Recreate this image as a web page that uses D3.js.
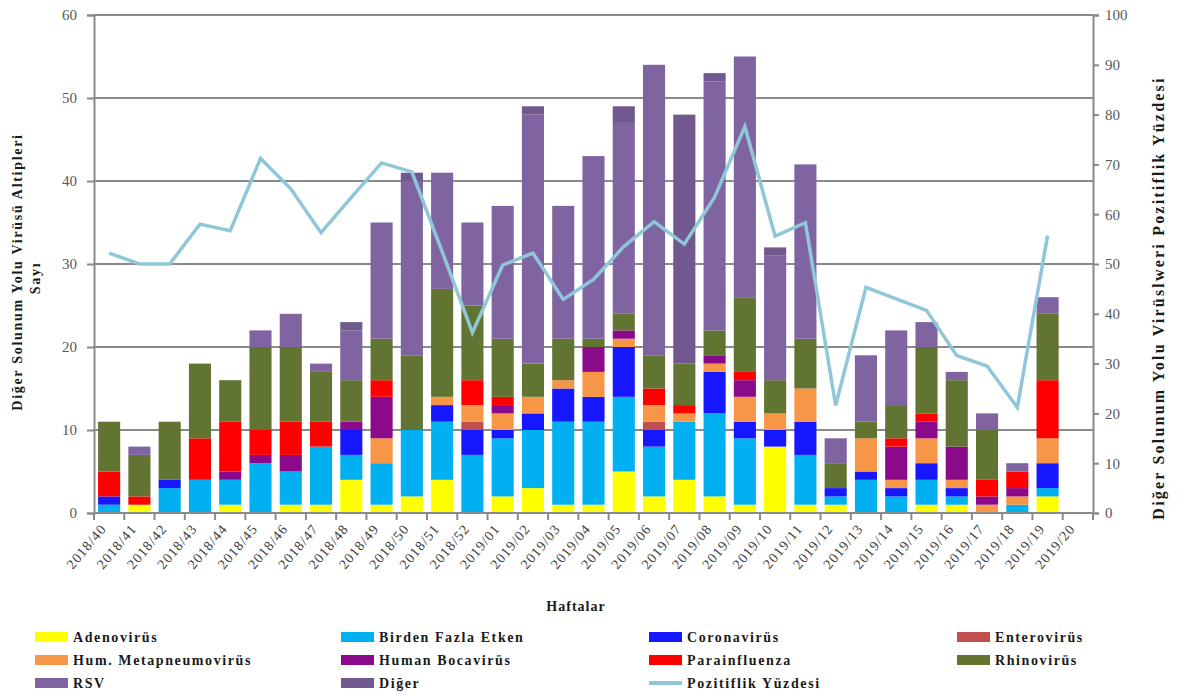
<!DOCTYPE html>
<html>
<head>
<meta charset="utf-8">
<script src="https://cdn.jsdelivr.net/npm/d3@7"></script>
<style>
  body { margin: 0; background: #fff; }
  svg { display: block; font-family: "Liberation Serif", "DejaVu Serif", serif; }
</style>
</head>
<body>
<div id="chart"></div>
<script>
// weeks
const weeks = [
  "2018/40","2018/41","2018/42","2018/43","2018/44","2018/45","2018/46","2018/47",
  "2018/48","2018/49","2018/50","2018/51","2018/52","2019/01","2019/02","2019/03",
  "2019/04","2019/05","2019/06","2019/07","2019/08","2019/09","2019/10","2019/11",
  "2019/12","2019/13","2019/14","2019/15","2019/16","2019/17","2019/18","2019/19","2019/20"
]

// counts per virus (stack order, bottom to top)
const adeno  = [0,1,0,0,1,0,1,1,4,1,2,4,0,2,3,1,1,5,2,4,2,1,8,1,1,0,0,1,1,0,0,2,0]
const birden = [1,0,3,4,3,6,4,7,3,5,8,7,7,7,7,10,10,9,6,7,10,8,0,6,1,4,2,3,1,0,1,1,0]
const corona = [1,0,1,0,0,0,0,0,3,0,0,2,3,1,2,4,3,6,2,0,5,2,2,4,1,1,1,2,1,0,0,3,0]
const entero = [0,0,0,0,0,0,0,0,0,0,0,0,1,0,0,0,0,0,1,0,0,0,0,0,0,0,0,0,0,0,0,0,0]
const hmpv   = [0,0,0,0,0,0,0,0,0,3,0,1,2,2,2,1,3,1,2,1,1,3,2,4,0,4,1,3,1,1,1,3,0]
const boca   = [0,0,0,0,1,1,2,0,1,5,0,0,0,1,0,0,3,1,0,0,1,2,0,0,0,0,4,2,4,1,1,0,0]
const para   = [3,1,0,5,6,3,4,3,0,2,0,0,3,1,0,0,0,0,2,1,0,1,0,0,0,0,1,1,0,2,2,7,0]
const rhino  = [6,5,7,9,5,10,9,6,5,5,9,13,9,7,4,5,1,2,4,5,3,9,4,6,3,2,4,8,8,6,0,8,0]
const rsv    = [0,1,0,0,0,2,4,1,6,14,21,14,10,16,30,16,22,23,35,0,30,29,15,21,3,8,9,3,1,2,1,2,0]
const diger  = [0,0,0,0,0,0,0,0,1,0,1,0,0,0,1,0,0,2,0,30,1,0,1,0,0,0,0,0,0,0,0,0,0]

// positivity percentage (right axis)
const pozitif = [52.2,50,50,58,56.7,71.2,65.1,56.3,63.4,70.3,68.5,52.5,36.2,49.8,52.2,42.9,
                 46.9,53.5,58.5,54,63.4,77.6,55.6,58.3,21.6,45.3,43,40.7,31.6,29.5,21.2,55.7,null]

const leftTicks = [0,10,20,30,40,50,60]
const rightTicks = [0,10,20,30,40,50,60,70,80,90,100]

const series = [
  { key: "adeno",  name: "Adenovirüs",             color: "#ffff00", values: adeno },
  { key: "birden", name: "Birden Fazla Etken",     color: "#00b0f0", values: birden },
  { key: "corona", name: "Coronavirüs",            color: "#1616ff", values: corona },
  { key: "entero", name: "Enterovirüs",            color: "#c0504d", values: entero },
  { key: "hmpv",   name: "Hum. Metapneumovirüs",   color: "#f79646", values: hmpv },
  { key: "boca",   name: "Human Bocavirüs",        color: "#8b0a8b", values: boca },
  { key: "para",   name: "Parainfluenza",          color: "#ff0000", values: para },
  { key: "rhino",  name: "Rhinovirüs",             color: "#617431", values: rhino },
  { key: "rsv",    name: "RSV",                    color: "#8064a2", values: rsv },
  { key: "diger",  name: "Diğer",                  color: "#71588f", values: diger }
]
const lineColor = "#8fc7d8"

const width = 1182, height = 695
const margin = { left: 94, right: 1093, top: 15, bottom: 513 }

const svg = d3.select("#chart").append("svg")
  .attr("width", width).attr("height", height)

const x = d3.scaleBand().domain(weeks).range([margin.left, margin.right])
  .paddingInner(0.27).paddingOuter(0.135)
const y = d3.scaleLinear().domain([0, 60]).range([margin.bottom, margin.top])
const y2 = d3.scaleLinear().domain([0, 100]).range([margin.bottom, margin.top])

// gridlines
svg.append("g").selectAll("line").data(leftTicks.filter(d => d > 0)).join("line")
  .attr("x1", margin.left).attr("x2", margin.right)
  .attr("y1", d => y(d)).attr("y2", d => y(d))
  .attr("stroke", "#8a8a8a").attr("stroke-width", 2)

// stacked bars
const table = weeks.map((w, i) => {
  const row = { week: w }
  series.forEach(s => { row[s.key] = s.values[i] })
  return row
})
const stack = d3.stack().keys(series.map(s => s.key))(table)

svg.append("g").selectAll("g").data(stack).join("g")
  .attr("fill", (d, i) => series[i].color)
  .selectAll("rect").data(d => d.filter(p => p[1] > p[0])).join("rect")
  .attr("x", d => x(d.data.week))
  .attr("width", x.bandwidth())
  .attr("y", d => y(d[1]))
  .attr("height", d => y(d[0]) - y(d[1]))

// positivity line
const line = d3.line()
  .defined(d => d != null)
  .x((d, i) => x(weeks[i]) + x.bandwidth() / 2)
  .y(d => y2(d))

svg.append("path")
  .datum(pozitif)
  .attr("d", line)
  .attr("fill", "none")
  .attr("stroke", lineColor)
  .attr("stroke-width", 3.5)
  .attr("stroke-linejoin", "miter")

// left axis
const yAxis = svg.append("g")
  .attr("transform", `translate(${margin.left},0)`)
  .call(d3.axisLeft(y).tickValues(leftTicks).tickSize(7).tickPadding(10))
yAxis.selectAll("text").attr("font-size", "15px").attr("fill", "#595959")
  .attr("font-family", "Liberation Serif")

// right axis
const yAxis2 = svg.append("g")
  .attr("transform", `translate(${margin.right},0)`)
  .call(d3.axisRight(y2).tickValues(rightTicks).tickSize(6).tickPadding(6))
yAxis2.selectAll("text").attr("font-size", "15px").attr("fill", "#595959")
  .attr("font-family", "Liberation Serif")

// bottom axis: ticks at category boundaries
const step = x.step()
const boundaries = weeks.map(w => x(w) - step * 0.135).concat([margin.right])
const xAxisG = svg.append("g")
xAxisG.selectAll("line.tk").data(boundaries).join("line")
  .attr("class", "tk")
  .attr("x1", d => d).attr("x2", d => d)
  .attr("y1", margin.bottom).attr("y2", margin.bottom + 7)
  .attr("stroke", "#8a8a8a").attr("stroke-width", 2)
xAxisG.append("line")
  .attr("x1", margin.left).attr("x2", margin.right)
  .attr("y1", margin.bottom).attr("y2", margin.bottom)
  .attr("stroke", "#8a8a8a").attr("stroke-width", 2)
xAxisG.selectAll("text").data(weeks).join("text")
  .attr("transform", d => `translate(${x(d) + x.bandwidth() / 2 - 2},${margin.bottom + 16}) rotate(-50)`)
  .attr("text-anchor", "end")
  .attr("font-size", "14px")
  .attr("letter-spacing", "1.1px")
  .attr("fill", "#404040")
  .text(d => d)

svg.selectAll(".domain, .tick line").attr("stroke", "#8a8a8a").attr("stroke-width", 2)

// axis titles
svg.append("text")
  .attr("transform", "translate(22,272) rotate(-90)")
  .attr("text-anchor", "middle")
  .attr("font-size", "14px").attr("font-weight", "bold")
  .attr("letter-spacing", "1.7px")
  .attr("fill", "#1a1a1a")
  .text("Diğer Solunum Yolu Virüsü Altipleri")
svg.append("text")
  .attr("transform", "translate(40,278) rotate(-90)")
  .attr("text-anchor", "middle")
  .attr("font-size", "14px").attr("font-weight", "bold")
  .attr("letter-spacing", "1.7px")
  .attr("fill", "#1a1a1a")
  .text("Sayı")

svg.append("text")
  .attr("transform", "translate(1164,298) rotate(-90)")
  .attr("text-anchor", "middle")
  .attr("font-size", "16px").attr("font-weight", "bold")
  .attr("letter-spacing", "2.2px")
  .attr("fill", "#1a1a1a")
  .text("Diğer Solunum Yolu Virüslweri Pozitiflik Yüzdesi")

svg.append("text")
  .attr("x", 576).attr("y", 611)
  .attr("text-anchor", "middle")
  .attr("font-size", "14px").attr("font-weight", "bold")
  .attr("letter-spacing", "1px")
  .attr("fill", "#1a1a1a")
  .text("Haftalar")

// legend
const legendItems = series.map(s => ({ name: s.name, color: s.color, type: "rect" }))
  .concat([{ name: "Pozitiflik Yüzdesi", color: lineColor, type: "line" }])
const colX = [35, 341, 649, 957]
const rowY = [637, 660, 683]

const leg = svg.append("g").selectAll("g").data(legendItems).join("g")
  .attr("transform", (d, i) => `translate(${colX[i % 4]},${rowY[Math.floor(i / 4)]})`)

leg.filter(d => d.type === "rect").append("rect")
  .attr("x", 0).attr("y", -5).attr("width", 33).attr("height", 10)
  .attr("fill", d => d.color)
leg.filter(d => d.type === "line").append("line")
  .attr("x1", 0).attr("x2", 33).attr("y1", 0).attr("y2", 0)
  .attr("stroke", d => d.color).attr("stroke-width", 4)
leg.append("text")
  .attr("x", 38).attr("y", 5)
  .attr("font-size", "14px").attr("font-weight", "bold")
  .attr("letter-spacing", "1.6px")
  .attr("fill", "#1a1a1a")
  .text(d => d.name)
</script>
</body>
</html>
